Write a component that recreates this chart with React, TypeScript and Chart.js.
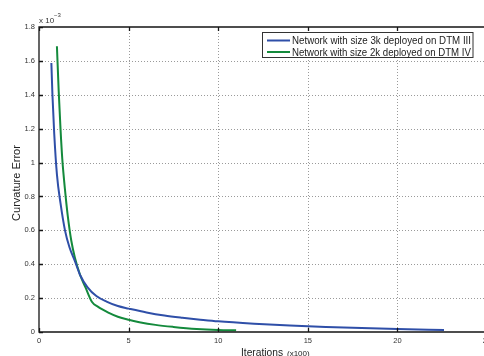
import React, { useEffect, useRef } from "react";
import { Chart, registerables } from "chart.js";

Chart.register(...registerables);

// Data (curvature error in units of 1e-3, iterations in units of 100)
const blueX = [0.69, 0.75, 0.85, 1.0, 1.2, 1.45, 1.7, 2.0, 2.3, 2.7, 3.2, 3.8, 4.4, 5, 6, 7, 8, 9, 10, 12, 14, 16, 18, 20, 22.6];
const blueY = [1.588, 1.4, 1.17, 0.93, 0.76, 0.6, 0.5, 0.42, 0.335, 0.265, 0.212, 0.178, 0.153, 0.138, 0.115, 0.097, 0.084, 0.073, 0.063, 0.049, 0.038, 0.03, 0.023, 0.018, 0.012];
const greenX = [1.0, 1.1, 1.2, 1.3, 1.45, 1.6, 1.8, 2.0, 2.3, 2.6, 2.96, 3.3, 3.9, 4.4, 5, 5.6, 6.5, 7.5, 8.8, 10, 11];
const greenY = [1.686, 1.42, 1.2, 1.02, 0.84, 0.69, 0.54, 0.44, 0.335, 0.262, 0.177, 0.148, 0.113, 0.09, 0.072, 0.058, 0.042, 0.03, 0.018, 0.012, 0.01];

const seriesLabels = [
  "Network with size 3k deployed on DTM III",
  "Network with size 2k deployed on DTM IV",
];
const seriesColors = ["#2f4fa8", "#148a3c"];

const xTickValues = [0, 5, 10, 15, 20, 25];
const xTickLabels = ["0", "5", "10", "15", "20", "25"];
const yTickValues = [0, 0.2, 0.4, 0.6, 0.8, 1, 1.2, 1.4, 1.6, 1.8];
const yTickLabels = ["0", "0.2", "0.4", "0.6", "0.8", "1", "1.2", "1.4", "1.6", "1.8"];
const xTitle = "Iterations";
const xTitleUnit = "(x100)";
const yTitle = "Curvature Error";

const CW = 495;
const CH = 362;
const TICK_FONT = '7.5px "Liberation Sans", sans-serif';

function fitText(ctx: CanvasRenderingContext2D, text: string, x: number, y: number, maxW: number) {
  const w = ctx.measureText(text).width;
  const sx = Math.min(1, maxW / w);
  ctx.save();
  ctx.translate(x, y);
  ctx.scale(sx, 1);
  ctx.fillText(text, 0, 0);
  ctx.restore();
}

const gridPlugin = {
  id: "matlabGrid",
  beforeDatasetsDraw(chart: any) {
    const { ctx, chartArea, scales } = chart;
    const { left, right, top, bottom } = chartArea;
    const x = scales.x;
    const y = scales.y;
    ctx.save();
    ctx.strokeStyle = "#9a9a9a";
    ctx.lineWidth = 1;
    ctx.setLineDash([1, 2]);
    ctx.beginPath();
    for (const v of xTickValues) {
      if (v <= 0 || v >= 25) continue;
      const px = Math.round(x.getPixelForValue(v)) + 0.5;
      ctx.moveTo(px, top);
      ctx.lineTo(px, bottom);
    }
    for (const v of yTickValues) {
      if (v <= 0 || v >= 1.8) continue;
      const py = Math.round(y.getPixelForValue(v)) + 0.5;
      ctx.moveTo(left, py);
      ctx.lineTo(right, py);
    }
    ctx.stroke();
    ctx.restore();
  },
  afterDatasetsDraw(chart: any) {
    const { ctx, chartArea, scales } = chart;
    const { left, right, top, bottom } = chartArea;
    const x = scales.x;
    const y = scales.y;
    ctx.save();
    ctx.strokeStyle = "#151515";
    ctx.lineWidth = 1.3;
    ctx.beginPath();
    ctx.moveTo(left, top);
    ctx.lineTo(right, top);
    ctx.lineTo(right, bottom);
    ctx.lineTo(left, bottom);
    ctx.closePath();
    for (const v of xTickValues) {
      const px = Math.round(x.getPixelForValue(v)) + 0.5;
      ctx.moveTo(px, bottom);
      ctx.lineTo(px, bottom - 4);
      ctx.moveTo(px, top);
      ctx.lineTo(px, top + 4);
    }
    for (const v of yTickValues) {
      const py = Math.round(y.getPixelForValue(v)) + 0.5;
      ctx.moveTo(left, py);
      ctx.lineTo(left + 4, py);
    }
    ctx.stroke();

    // Tick labels
    ctx.fillStyle = "#333333";
    ctx.font = TICK_FONT;
    ctx.textBaseline = "middle";
    ctx.textAlign = "right";
    yTickValues.forEach((v, i) => {
      ctx.fillText(yTickLabels[i], left - 4, y.getPixelForValue(v));
    });
    ctx.textAlign = "center";
    xTickValues.forEach((v, i) => {
      ctx.fillText(xTickLabels[i], x.getPixelForValue(v), bottom + 8.5);
    });
    ctx.restore();
  },
  afterDraw(chart: any) {
    const { ctx } = chart;
    ctx.save();
    // Legend box
    ctx.fillStyle = "#ffffff";
    ctx.strokeStyle = "#333333";
    ctx.lineWidth = 1;
    ctx.fillRect(262.5, 32.5, 210.5, 25);
    ctx.strokeRect(262.5, 32.5, 210.5, 25);
    const rows = [40.5, 52];
    ctx.font = '11px "Liberation Sans Narrow", "Liberation Sans", sans-serif';
    ctx.textBaseline = "middle";
    ctx.textAlign = "left";
    seriesLabels.forEach((lab, i) => {
      ctx.strokeStyle = seriesColors[i];
      ctx.lineWidth = 2;
      ctx.beginPath();
      ctx.moveTo(267, rows[i]);
      ctx.lineTo(290, rows[i]);
      ctx.stroke();
      ctx.fillStyle = "#222222";
      fitText(ctx, lab, 292, rows[i] + 0.5, 179);
    });

    // Exponent label
    ctx.fillStyle = "#333333";
    ctx.textBaseline = "alphabetic";
    ctx.font = '8px "Liberation Sans", sans-serif';
    ctx.fillText("x 10", 39, 23);
    ctx.font = '6px "Liberation Sans", sans-serif';
    ctx.fillText("\u22123", 54, 17);

    // Y title
    ctx.save();
    ctx.translate(20, 183);
    ctx.rotate(-Math.PI / 2);
    ctx.font = '11px "Liberation Sans", sans-serif';
    ctx.textAlign = "center";
    ctx.fillStyle = "#222222";
    const w = ctx.measureText(yTitle).width;
    ctx.scale(Math.min(1, 83 / w), 1);
    ctx.fillText(yTitle, 0, 0);
    ctx.restore();

    // X title
    ctx.fillStyle = "#222222";
    ctx.textAlign = "left";
    ctx.font = '11px "Liberation Sans", sans-serif';
    fitText(ctx, xTitle, 241, 356, 42);
    ctx.font = '8px "Liberation Sans", sans-serif';
    fitText(ctx, xTitleUnit, 287, 356, 23);
    ctx.restore();
  },
};

export default function App() {
  const ref = useRef<HTMLCanvasElement | null>(null);

  useEffect(() => {
    if (!ref.current) return;
    const chart = new Chart(ref.current, {
      type: "line",
      data: {
        datasets: [
          {
            label: seriesLabels[0],
            data: blueX.map((v, i) => ({ x: v, y: blueY[i] })),
            borderColor: seriesColors[0],
            borderWidth: 2,
            pointRadius: 0,
            fill: false,
            cubicInterpolationMode: "monotone",
          },
          {
            label: seriesLabels[1],
            data: greenX.map((v, i) => ({ x: v, y: greenY[i] })),
            borderColor: seriesColors[1],
            borderWidth: 2,
            pointRadius: 0,
            fill: false,
            cubicInterpolationMode: "monotone",
          },
        ],
      },
      options: {
        responsive: false,
        animation: false,
        devicePixelRatio: 1,
        layout: { padding: { top: 27, right: 8, left: 0, bottom: 0 } },
        plugins: {
          legend: { display: false },
          tooltip: { enabled: false },
        },
        scales: {
          x: {
            type: "linear",
            min: 0,
            max: 25,
            grid: { display: false },
            border: { display: false },
            ticks: { display: false },
            afterFit: (axis: any) => {
              axis.height = 30;
            },
          },
          y: {
            type: "linear",
            min: 0,
            max: 1.8,
            grid: { display: false },
            border: { display: false },
            ticks: { display: false },
            afterFit: (axis: any) => {
              axis.width = 39;
            },
          },
        },
      },
      plugins: [gridPlugin],
    } as any);
    return () => chart.destroy();
  }, []);

  return (
    <div
      style={{
        position: "absolute",
        left: 0,
        top: 0,
        width: 484,
        height: 356,
        overflow: "hidden",
        background: "#ffffff",
      }}
    >
      <canvas ref={ref} width={CW} height={CH} style={{ display: "block", width: CW, height: CH }} />
    </div>
  );
}
